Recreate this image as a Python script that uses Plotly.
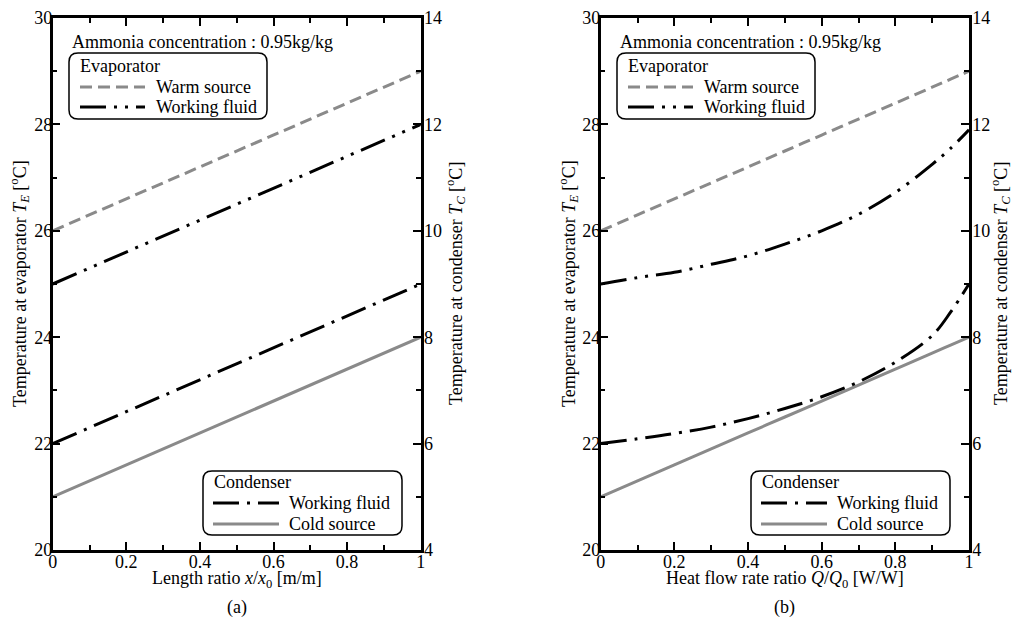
import plotly.graph_objects as go

W, H = 1012, 617
FONT = "Liberation Serif, Times New Roman, serif"
FS = 18
GRAY = "#8a8a8a"

# ---------------- data ----------------
# Panel (a): length ratio x/x0
x_a = [0.0, 0.1, 0.2, 0.3, 0.4, 0.5, 0.6, 0.7, 0.8, 0.9, 1.0]
warm_a = [26.0, 26.3, 26.6, 26.9, 27.2, 27.5, 27.8, 28.1, 28.4, 28.7, 29.0]
evap_wf_a = [25.0, 25.3, 25.6, 25.9, 26.2, 26.5, 26.8, 27.1, 27.4, 27.7, 28.0]
cond_wf_a = [6.0, 6.3, 6.6, 6.9, 7.2, 7.5, 7.8, 8.1, 8.4, 8.7, 9.0]
cold_a = [5.0, 5.3, 5.6, 5.9, 6.2, 6.5, 6.8, 7.1, 7.4, 7.7, 8.0]

# Panel (b): heat flow rate ratio Q/Q0
x_b = [0.0, 0.1, 0.2, 0.3, 0.4, 0.5, 0.6, 0.7, 0.8, 0.9, 0.95, 1.0]
warm_b = [26.0, 26.3, 26.6, 26.9, 27.2, 27.5, 27.8, 28.1, 28.4, 28.7, 28.85, 29.0]
evap_wf_b = [25.0, 25.12, 25.22, 25.37, 25.53, 25.75, 26.0, 26.31, 26.72, 27.25, 27.55, 27.9]
cond_wf_b = [6.0, 6.09, 6.19, 6.31, 6.47, 6.66, 6.88, 7.16, 7.53, 8.03, 8.47, 9.0]
cold_b = [5.0, 5.3, 5.6, 5.9, 6.2, 6.5, 6.8, 7.1, 7.4, 7.7, 7.85, 8.0]

x_ticks = [0, 0.2, 0.4, 0.6, 0.8, 1]
x_ticklabels = ["0", "0.2", "0.4", "0.6", "0.8", "1"]
yE_ticks = [20, 22, 24, 26, 28, 30]
yC_ticks = [4, 6, 8, 10, 12, 14]

# ---------------- styles ----------------
DASH_WARM = "12px,6px"
DASH_EVAP = "26px,8px,3px,8px,3px,8px"
DASH_COND = "26px,8px,3px,8px"

fig = go.Figure()

panels = [
    ("x", "y", "y2", x_a, warm_a, evap_wf_a, cond_wf_a, cold_a),
    ("x2", "y3", "y4", x_b, warm_b, evap_wf_b, cond_wf_b, cold_b),
]
for xa, yl, yr, xs, warm, ewf, cwf, cold in panels:
    shape = "spline" if xa == "x2" else "linear"
    fig.add_trace(go.Scatter(x=xs, y=warm, xaxis=xa, yaxis=yl, mode="lines",
                             line=dict(color=GRAY, width=3, dash=DASH_WARM, shape=shape),
                             showlegend=False, name="Warm source"))
    fig.add_trace(go.Scatter(x=xs, y=ewf, xaxis=xa, yaxis=yl, mode="lines",
                             line=dict(color="black", width=3, dash=DASH_EVAP, shape=shape),
                             showlegend=False, name="Working fluid (evaporator)"))
    fig.add_trace(go.Scatter(x=xs, y=cold, xaxis=xa, yaxis=yr, mode="lines",
                             line=dict(color=GRAY, width=3, shape=shape),
                             showlegend=False, name="Cold source"))
    fig.add_trace(go.Scatter(x=xs, y=cwf, xaxis=xa, yaxis=yr, mode="lines",
                             line=dict(color="black", width=3, dash=DASH_COND, shape=shape),
                             showlegend=False, name="Working fluid (condenser)"))

tickfont = dict(family=FONT, size=FS, color="black")
common_axis = dict(showline=True, linecolor="black", linewidth=2.5, ticks="inside",
                   ticklen=8, tickwidth=2, tickcolor="black", showgrid=False,
                   zeroline=False, tickfont=tickfont, automargin=False)
minor = dict(ticks="inside", ticklen=5, tickwidth=2, tickcolor="black", showgrid=False)

Y0, Y1 = 1 - 550 / H, 1 - 18 / H
XA = [52.7 / W, 420.7 / W]
XB = [600.7 / W, 969.0 / W]

fig.update_layout(
    template="none",
    width=W, height=H, autosize=False,
    margin=dict(l=0, r=0, t=0, b=0, pad=0),
    paper_bgcolor="white", plot_bgcolor="white",
    showlegend=False,
    font=dict(family=FONT, size=FS, color="black"),
    xaxis=dict(domain=XA, range=[0, 1], anchor="y", mirror="ticks",
               tickvals=x_ticks, ticktext=x_ticklabels, ticklabelstandoff=-6,
               minor=dict(dtick=0.1, **minor), **common_axis),
    xaxis2=dict(domain=XB, range=[0, 1], anchor="y3", mirror="ticks",
                tickvals=x_ticks, ticktext=x_ticklabels, ticklabelstandoff=-6,
                minor=dict(dtick=0.1, **minor), **common_axis),
    yaxis=dict(domain=[Y0, Y1], range=[20, 30], anchor="x", tickvals=yE_ticks,
               ticklabelstandoff=-6, minor=dict(dtick=1, **minor), **common_axis),
    yaxis2=dict(domain=[Y0, Y1], range=[4, 14], anchor="x", overlaying="y", side="right",
                ticklabelstandoff=-3,
                tickvals=yC_ticks, minor=dict(dtick=1, **minor), **common_axis),
    yaxis3=dict(domain=[Y0, Y1], range=[20, 30], anchor="x2", tickvals=yE_ticks,
                ticklabelstandoff=-6, minor=dict(dtick=1, **minor), **common_axis),
    yaxis4=dict(domain=[Y0, Y1], range=[4, 14], anchor="x2", overlaying="y3", side="right",
                ticklabelstandoff=-3,
                tickvals=yC_ticks, minor=dict(dtick=1, **minor), **common_axis),
)


def px(v):
    return v / W


def py(v):
    return 1 - v / H


def rrect(x0, y0, x1, y1, r):
    pts = [
        ("M", (x0 + r, y0)), ("L", (x1 - r, y0)), ("Q", (x1, y0), (x1, y0 + r)),
        ("L", (x1, y1 - r)), ("Q", (x1, y1), (x1 - r, y1)), ("L", (x0 + r, y1)),
        ("Q", (x0, y1), (x0, y1 - r)), ("L", (x0, y0 + r)), ("Q", (x0, y0), (x0 + r, y0)),
    ]
    s = ""
    for cmd, *ps in pts:
        s += cmd + " " + " ".join(f"{px(a):.5f},{py(b):.5f}" for a, b in ps) + " "
    return s + "Z"


def text(x, y, t, xanchor="left", angle=0):
    fig.add_annotation(x=px(x), y=py(y), xref="paper", yref="paper", text=t,
                       showarrow=False, xanchor=xanchor, yanchor="middle",
                       textangle=angle, borderpad=0,
                       font=dict(family=FONT, size=FS, color="black"))


def sample(x0, x1, y, color, dash):
    fig.add_shape(type="line", xref="paper", yref="paper", x0=px(x0), x1=px(x1),
                  y0=py(y), y1=py(y), line=dict(color=color, width=3, dash=dash))


ylab_E = "Temperature at evaporator <i>T</i><sub><i>E</i></sub> [<sup>o</sup>C]"
ylab_C = "Temperature at condenser <i>T</i><sub><i>C</i></sub> [<sup>o</sup>C]"

for dx, xlab, tag, left_x, right_x in [
    (0, "Length ratio <i>x</i>/<i>x</i><sub>0</sub> [m/m]", "(a)", 19, 455),
    (548, "Heat flow rate ratio <i>Q</i>/<i>Q</i><sub>0</sub> [W/W]", "(b)", 568, 1000),
]:
    cx = 236.7 + dx
    text(cx, 579, xlab, xanchor="center")
    text(cx, 607, tag, xanchor="center")
    text(left_x, 284, ylab_E, xanchor="center", angle=-90)
    text(right_x, 284, ylab_C, xanchor="center", angle=-90)
    text(71 + dx, 42, "Ammonia concentration : 0.95kg/kg")
    # evaporator legend
    fig.add_shape(type="path", xref="paper", yref="paper",
                  path=rrect(69 + dx, 53, 267 + dx, 119, 9),
                  line=dict(color="black", width=1.5), fillcolor="white", layer="above")
    text(79 + dx, 66, "Evaporator")
    sample(80 + dx, 145 + dx, 87, GRAY, DASH_WARM)
    text(155 + dx, 87, "Warm source")
    sample(80 + dx, 145 + dx, 107, "black", DASH_EVAP)
    text(155 + dx, 107, "Working fluid")
    # condenser legend
    fig.add_shape(type="path", xref="paper", yref="paper",
                  path=rrect(203 + dx, 471, 402 + dx, 535, 9),
                  line=dict(color="black", width=1.5), fillcolor="white", layer="above")
    text(213 + dx, 482, "Condenser")
    sample(213 + dx, 279 + dx, 503, "black", DASH_COND)
    text(288 + dx, 503, "Working fluid")
    sample(213 + dx, 279 + dx, 524, GRAY, "solid")
    text(288 + dx, 524, "Cold source")

fig.write_html(
    "out.html",
    config={"displayModeBar": False},
    post_script="document.body.style.margin='0';document.body.style.overflow='hidden';",
)
